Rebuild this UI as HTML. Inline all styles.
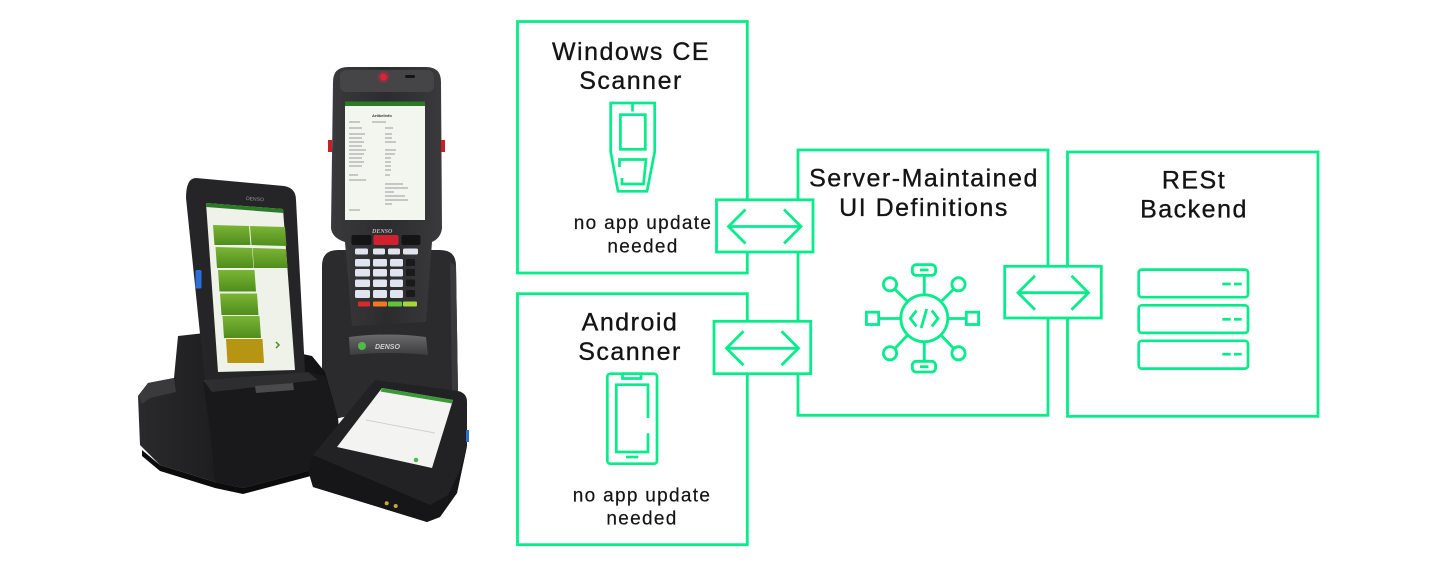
<!DOCTYPE html>
<html>
<head>
<meta charset="utf-8">
<style>
  html,body{margin:0;padding:0;background:#fff;}
  body{width:1440px;height:567px;overflow:hidden;}
  svg{display:block;}
  .t{font-family:"Liberation Sans",Arial,sans-serif;fill:#141414;}
  .ti{font-size:25px;letter-spacing:1.5px;stroke:#141414;stroke-width:0.35px;}
  .sm{font-size:19px;letter-spacing:1.3px;stroke:#141414;stroke-width:0.2px;}
</style>
</head>
<body>
<svg width="1440" height="567" viewBox="0 0 1440 567" xmlns="http://www.w3.org/2000/svg">
  <rect x="0" y="0" width="1440" height="567" fill="#ffffff"/>

  <!-- ================= PHOTO (approximation) ================= -->
  <defs>
    <linearGradient id="gbtn" x1="0" y1="0" x2="0" y2="1">
      <stop offset="0" stop-color="#7bb536"/>
      <stop offset="1" stop-color="#4f8d1c"/>
    </linearGradient>
    <linearGradient id="gplate" x1="0" y1="0" x2="0" y2="1">
      <stop offset="0" stop-color="#6a6a6c"/>
      <stop offset="1" stop-color="#3c3c3e"/>
    </linearGradient>
    <linearGradient id="gcradle" x1="0" y1="0" x2="1" y2="0">
      <stop offset="0" stop-color="#2a2a2c"/>
      <stop offset="0.5" stop-color="#1a1a1c"/>
      <stop offset="1" stop-color="#111113"/>
    </linearGradient>
    <linearGradient id="gtall" x1="0" y1="0" x2="1" y2="0">
      <stop offset="0" stop-color="#3a3a3c"/>
      <stop offset="0.5" stop-color="#2c2c2e"/>
      <stop offset="1" stop-color="#3a3a3c"/>
    </linearGradient>
  </defs>

  <!-- back cradle of tall device -->
  <path d="M322,266 Q322,250 338,250 L440,250 Q456,250 456,266 L458,392 L330,420 L322,400 Z" fill="#2b2b2d"/>
  <path d="M450,262 L456,266 L458,392 L452,394 Z" fill="#3a3a3c"/>

  <!-- tall device body -->
  <path d="M333,82 Q333,67 348,67 L426,67 Q441,67 441,82 L442,228 Q441,238 432,242 L426,322 L352,326 L345,242 Q332,238 331,228 Z" fill="url(#gtall)"/>
  <rect x="340" y="70" width="94" height="22" rx="6" fill="#454547"/>
  <circle cx="383.5" cy="77" r="3.6" fill="#e2203a"/>
  <circle cx="383.5" cy="77" r="6" fill="#e2203a" opacity="0.3"/>
  <rect x="405" y="75" width="10" height="3" rx="1.5" fill="#151515"/>
  <rect x="328" y="140" width="4" height="12" fill="#c8202a"/>
  <rect x="441" y="140" width="4" height="12" fill="#c8202a"/>
  <!-- screen -->
  <rect x="345" y="101.5" width="80" height="118.5" fill="#f3f5ef"/>
  <rect x="345" y="101.5" width="80" height="4.5" fill="#2a7a26"/>
  <g stroke="#9a9a9a" stroke-width="1">
    <line x1="349" y1="122" x2="360" y2="122"/><line x1="372" y1="122" x2="386" y2="122"/>
    <line x1="349" y1="128" x2="362" y2="128"/><line x1="385" y1="128" x2="393" y2="128"/>
    <line x1="349" y1="134" x2="365" y2="134"/><line x1="385" y1="134" x2="392" y2="134"/>
    <line x1="349" y1="138" x2="362" y2="138"/><line x1="385" y1="138" x2="392" y2="138"/>
    <line x1="349" y1="142" x2="364" y2="142"/><line x1="385" y1="142" x2="396" y2="142"/>
    <line x1="349" y1="146" x2="362" y2="146"/>
    <line x1="349" y1="150" x2="366" y2="150"/><line x1="385" y1="150" x2="396" y2="150"/>
    <line x1="349" y1="154" x2="364" y2="154"/><line x1="385" y1="154" x2="395" y2="154"/>
    <line x1="349" y1="158" x2="362" y2="158"/><line x1="385" y1="158" x2="391" y2="158"/>
    <line x1="349" y1="162" x2="364" y2="162"/><line x1="385" y1="162" x2="391" y2="162"/>
    <line x1="349" y1="166" x2="362" y2="166"/><line x1="385" y1="166" x2="391" y2="166"/>
    <line x1="385" y1="170" x2="391" y2="170"/>
    <line x1="349" y1="175" x2="358" y2="175"/><line x1="385" y1="175" x2="390" y2="175"/>
    <line x1="349" y1="180" x2="366" y2="180"/>
    <line x1="385" y1="184" x2="403" y2="184"/><line x1="385" y1="188" x2="408" y2="188"/>
    <line x1="385" y1="192" x2="394" y2="192"/><line x1="385" y1="196" x2="405" y2="196"/>
    <line x1="385" y1="200" x2="408" y2="200"/><line x1="385" y1="204" x2="392" y2="204"/>
    <line x1="349" y1="210" x2="360" y2="210"/>
  </g>
  <text x="372" y="117" font-family="Liberation Sans,sans-serif" font-size="4" font-weight="bold" fill="#333">Artikelinfo</text>
  <!-- keypad -->
  <text x="372" y="233" font-family="Liberation Serif,serif" font-style="italic" font-weight="bold" font-size="6" fill="#bbb">DENSO</text>
  <rect x="351.5" y="235" width="20" height="10" rx="2" fill="#141414"/>
  <rect x="373.5" y="235" width="25" height="10" rx="2" fill="#d3202e"/>
  <rect x="401.5" y="235" width="19" height="10" rx="2" fill="#141414"/>
  <g fill="#dfe4ee">
    <rect x="355" y="248.5" width="13" height="6" rx="1.5"/>
    <rect x="373" y="248.5" width="12" height="6" rx="1.5"/>
    <rect x="388" y="248.5" width="12" height="6" rx="1.5"/>
    <rect x="403" y="248.5" width="15" height="6" rx="1.5"/>
    <rect x="355" y="259" width="15" height="7.5" rx="1.5"/>
    <rect x="373" y="259" width="14" height="7.5" rx="1.5"/>
    <rect x="390" y="259" width="13" height="7.5" rx="1.5"/>
    <rect x="355" y="269" width="15" height="7.5" rx="1.5"/>
    <rect x="373" y="269" width="14" height="7.5" rx="1.5"/>
    <rect x="390" y="269" width="13" height="7.5" rx="1.5"/>
    <rect x="355" y="279.5" width="15" height="7.5" rx="1.5"/>
    <rect x="373" y="279.5" width="14" height="7.5" rx="1.5"/>
    <rect x="390" y="279.5" width="13" height="7.5" rx="1.5"/>
    <rect x="355" y="290" width="15" height="8" rx="1.5"/>
    <rect x="373" y="290" width="14" height="8" rx="1.5"/>
    <rect x="390" y="290" width="13" height="8" rx="1.5"/>
  </g>
  <g fill="#1a1a1a">
    <rect x="406" y="259" width="9" height="7" rx="1"/>
    <rect x="406" y="269" width="9" height="7" rx="1"/>
    <rect x="406" y="279.5" width="9" height="7" rx="1"/>
    <rect x="406" y="290" width="9" height="7" rx="1"/>
  </g>
  <rect x="358" y="301.5" width="12" height="5" rx="1" fill="#d82a2a"/>
  <rect x="373" y="301.5" width="14" height="5" rx="1" fill="#f07a1e"/>
  <rect x="388" y="301.5" width="14" height="5" rx="1" fill="#5fc43a"/>
  <rect x="403" y="301.5" width="14" height="5" rx="1" fill="#a6d63a"/>
  <!-- DENSO plate on back cradle -->
  <path d="M349,337 Q388,332 426,337 L428,355 Q388,351 350,355 Z" fill="url(#gplate)"/>
  <circle cx="362" cy="346" r="4" fill="#4cbc46"/>
  <text x="375" y="349" font-family="Liberation Sans,sans-serif" font-style="italic" font-weight="bold" font-size="7" fill="#cfcfcf">DENSO</text>

  <!-- left cradle -->
  <path d="M178,336 L205,333 L312,356 L325,372 L338,418 L341,462 L243,488 L215,482 L160,465 L140,445 L138,396 L148,383 L174,378 Z" fill="url(#gcradle)"/>
  <path d="M138,396 L148,383 L174,378 L176,392 L150,398 L142,404 Z" fill="#3a3a3c"/>
  <path d="M142,450 L160,465 L215,482 L243,488 L341,462 L341,468 L243,494 L215,488 L160,471 L142,456 Z" fill="#0c0c0d"/>

  <!-- left phone -->
  <path d="M196,178 L284,186 Q296,188 296,200 L305,372 L302,384 L218,390 L205,382 L186,198 Q186,178 196,178 Z" fill="#252527"/>
  <rect x="195.5" y="270" width="6" height="18.5" rx="1.5" fill="#2b6fd8"/>
  <text x="246" y="200" font-family="Liberation Sans,sans-serif" font-size="5" fill="#999" transform="rotate(4 246 200)">DENSO</text>
  <path d="M206,203 L283,209 L295,370 L218,372 Z" fill="#eef2e8"/>
  <path d="M206,203 L283,209 L283.3,213 L206.3,207 Z" fill="#2a7a26"/>
  <path d="M213,225 L249,226 L250.5,245 L214.5,245 Z" fill="url(#gbtn)"/>
  <path d="M250,226 L285,227 L286.5,246 L251.5,245 Z" fill="url(#gbtn)"/>
  <path d="M215.5,247 L252,248 L253.5,268 L217,268 Z" fill="url(#gbtn)"/>
  <path d="M252.5,248 L286,249 L287.5,268 L254,268 Z" fill="url(#gbtn)"/>
  <path d="M218,270 L254.5,270 L256,291.5 L219.5,291.5 Z" fill="url(#gbtn)"/>
  <path d="M220,293.5 L257,293.5 L258.5,315 L221.5,315 Z" fill="url(#gbtn)"/>
  <path d="M222.5,316 L259.5,316 L261,338 L224,338 Z" fill="url(#gbtn)"/>
  <path d="M226,339 L262.5,339 L264,363 L227.5,363 Z" fill="#b69512"/>
  <path d="M276,342 L279,345 L276,348" stroke="#4f8d1c" stroke-width="1.5" fill="none"/>

  <!-- cradle front lip over phone bottom -->
  <path d="M203,380 L308,372 L325,376 L338,418 L341,462 L243,488 L215,482 L210,430 Z" fill="#19191b"/>
  <path d="M203,380 L308,372 L318,380 L212,392 Z" fill="#2e2e30"/>
  <path d="M255,386 L293,383 L294,390 L256,393 Z" fill="#4a4a4c"/>

  <!-- front lying phone -->
  <path d="M375,380 L458,391 Q467,393 467,402 L467,446 L457,493 L440,517 L427,522 L313,487 L308,470 L313,455 Z" fill="#222224"/>
  <path d="M313,455 L308,470 L313,487 L427,522 L440,517 L457,493 L467,446 L460,470 L448,495 L430,505 Z" fill="#161618"/>
  <path d="M382,388 L453,400 L432,468 L337,447 Z" fill="#f3f4f1"/>
  <path d="M382,388 L453,400 L452,403.5 L380.5,391.5 Z" fill="#3a9a3a"/>
  <line x1="366" y1="420" x2="435" y2="433" stroke="#d0d0d0" stroke-width="1"/>
  <circle cx="416" cy="460" r="2.3" fill="#4cbc46"/>
  <rect x="466" y="430" width="3" height="12" fill="#2b6fd8"/>
  <circle cx="386.7" cy="503.3" r="2" fill="#c9a83a"/>
  <circle cx="395.7" cy="506" r="2" fill="#c9a83a"/>

  <!-- ================= DIAGRAM ================= -->
  <g fill="none" stroke="#06ec8a" stroke-width="2.8" stroke-linejoin="miter">
    <!-- main boxes -->
    <rect x="517.5" y="21.5" width="229.8" height="251.5"/>
    <rect x="517.5" y="293.7" width="229.8" height="251"/>
    <rect x="798" y="150" width="250" height="265.3"/>
    <rect x="1067.5" y="152" width="250.5" height="264.3"/>
  </g>

  <!-- arrow boxes (white fill on top) -->
  <g stroke="#06ec8a" stroke-width="2.8">
    <rect x="716.5" y="199.8" width="96.5" height="52.2" fill="#fff"/>
    <rect x="714" y="321.3" width="96.7" height="52.4" fill="#fff"/>
    <rect x="1004.7" y="266.3" width="96.6" height="51.7" fill="#fff"/>
  </g>
  <g fill="none" stroke="#06ec8a" stroke-width="2.8" stroke-linecap="butt" stroke-linejoin="miter">
    <line x1="729" y1="226.5" x2="800" y2="226.5"/>
    <polyline points="745.5,209.5 728.5,226.5 745.5,243.5"/>
    <polyline points="784,209.5 801,226.5 784,243.5"/>

    <line x1="727" y1="348.3" x2="797" y2="348.3"/>
    <polyline points="743.5,331.3 726.5,348.3 743.5,365.3"/>
    <polyline points="781.5,331.3 798.5,348.3 781.5,365.3"/>

    <line x1="1018" y1="292.7" x2="1088" y2="292.7"/>
    <polyline points="1035,275.7 1018,292.7 1035,309.7"/>
    <polyline points="1071.5,275.7 1088.5,292.7 1071.5,309.7"/>
  </g>

  <!-- Windows CE icon -->
  <g fill="none" stroke="#06ec8a" stroke-width="2.7" stroke-linejoin="miter">
    <path d="M610.7,103 L654.7,103 L654.7,151.7 L647,191.3 L618,191.3 L610.7,151.7 Z"/>
    <line x1="632.5" y1="104" x2="632.5" y2="111.5"/>
    <rect x="620.4" y="114.7" width="24.9" height="34.6"/>
    <path d="M619.5,167 L619.5,159.5 L646,159.5 L643.5,184 L622,184 L622,178"/>
  </g>

  <!-- Android icon -->
  <g fill="none" stroke="#06ec8a" stroke-width="2.7">
    <rect x="607.3" y="373.7" width="49.7" height="90" rx="3"/>
    <rect x="622.5" y="373.7" width="18.5" height="4.8"/>
    <path d="M648,418 L648,384.7 L616.3,384.7 L616.3,452 L648,452 L648,433.3"/>
    <line x1="626" y1="457" x2="638.3" y2="457"/>
  </g>

  <!-- Network / code icon -->
  <g fill="none" stroke="#06ec8a" stroke-width="2.8" stroke-linecap="butt">
    <circle cx="924.3" cy="318.3" r="23.5"/>
    <line x1="924.3" y1="276" x2="924.3" y2="294.8"/>
    <line x1="924.3" y1="341.8" x2="924.3" y2="361"/>
    <line x1="879.5" y1="318.5" x2="900.8" y2="318.5"/>
    <line x1="947.8" y1="318.5" x2="966" y2="318.5"/>
    <rect x="912.3" y="264.7" width="23.3" height="10.7" rx="4"/>
    <rect x="912.3" y="361.3" width="23.3" height="10.7" rx="4"/>
    <line x1="920" y1="270" x2="928.5" y2="270"/>
    <line x1="920" y1="366.7" x2="928.5" y2="366.7"/>
    <rect x="866.4" y="312.2" width="12.3" height="12.3"/>
    <rect x="966.3" y="312.2" width="12.3" height="12.3"/>
    <circle cx="890" cy="284.3" r="6.6"/>
    <circle cx="958.5" cy="284.3" r="6.6"/>
    <circle cx="890" cy="353.3" r="6.6"/>
    <circle cx="958.5" cy="353.3" r="6.6"/>
    <line x1="894.7" y1="289" x2="907.7" y2="301.7"/>
    <line x1="953.8" y1="289" x2="940.9" y2="301.7"/>
    <line x1="894.7" y1="348.6" x2="907.7" y2="335"/>
    <line x1="953.8" y1="348.6" x2="940.9" y2="335"/>
    <polyline points="916.5,310.5 910.3,318.5 916.5,326.5"/>
    <line x1="926.7" y1="309" x2="921.2" y2="328"/>
    <polyline points="931.8,310.5 938,318.5 931.8,326.5"/>
  </g>

  <!-- Server icon -->
  <g fill="none" stroke="#06ec8a" stroke-width="2.7">
    <rect x="1138.7" y="269.6" width="109.3" height="27.6" rx="3"/>
    <rect x="1138.7" y="305.3" width="109.3" height="27.6" rx="3"/>
    <rect x="1138.7" y="340.8" width="109.3" height="27.8" rx="3"/>
    <line x1="1222.3" y1="284" x2="1230.7" y2="284"/>
    <line x1="1234" y1="284" x2="1241.7" y2="284"/>
    <line x1="1222.3" y1="319.3" x2="1230.7" y2="319.3"/>
    <line x1="1234" y1="319.3" x2="1241.7" y2="319.3"/>
    <line x1="1222.3" y1="354.2" x2="1230.7" y2="354.2"/>
    <line x1="1234" y1="354.2" x2="1241.7" y2="354.2"/>
  </g>

  <!-- Texts -->
  <g class="t" text-anchor="middle">
    <text class="ti" x="631" y="60">Windows CE</text>
    <text class="ti" x="631" y="89">Scanner</text>
    <text class="sm" x="643" y="229">no app update</text>
    <text class="sm" x="643" y="252.5">needed</text>

    <text class="ti" x="630" y="330.7">Android</text>
    <text class="ti" x="630" y="360">Scanner</text>
    <text class="sm" x="642" y="501.7">no app update</text>
    <text class="sm" x="642" y="524.5">needed</text>

    <text class="ti" x="924" y="186.7">Server-Maintained</text>
    <text class="ti" x="924" y="216">UI Definitions</text>

    <text class="ti" x="1194" y="188.3">RESt</text>
    <text class="ti" x="1194" y="217.3">Backend</text>
  </g>
</svg>
</body>
</html>
